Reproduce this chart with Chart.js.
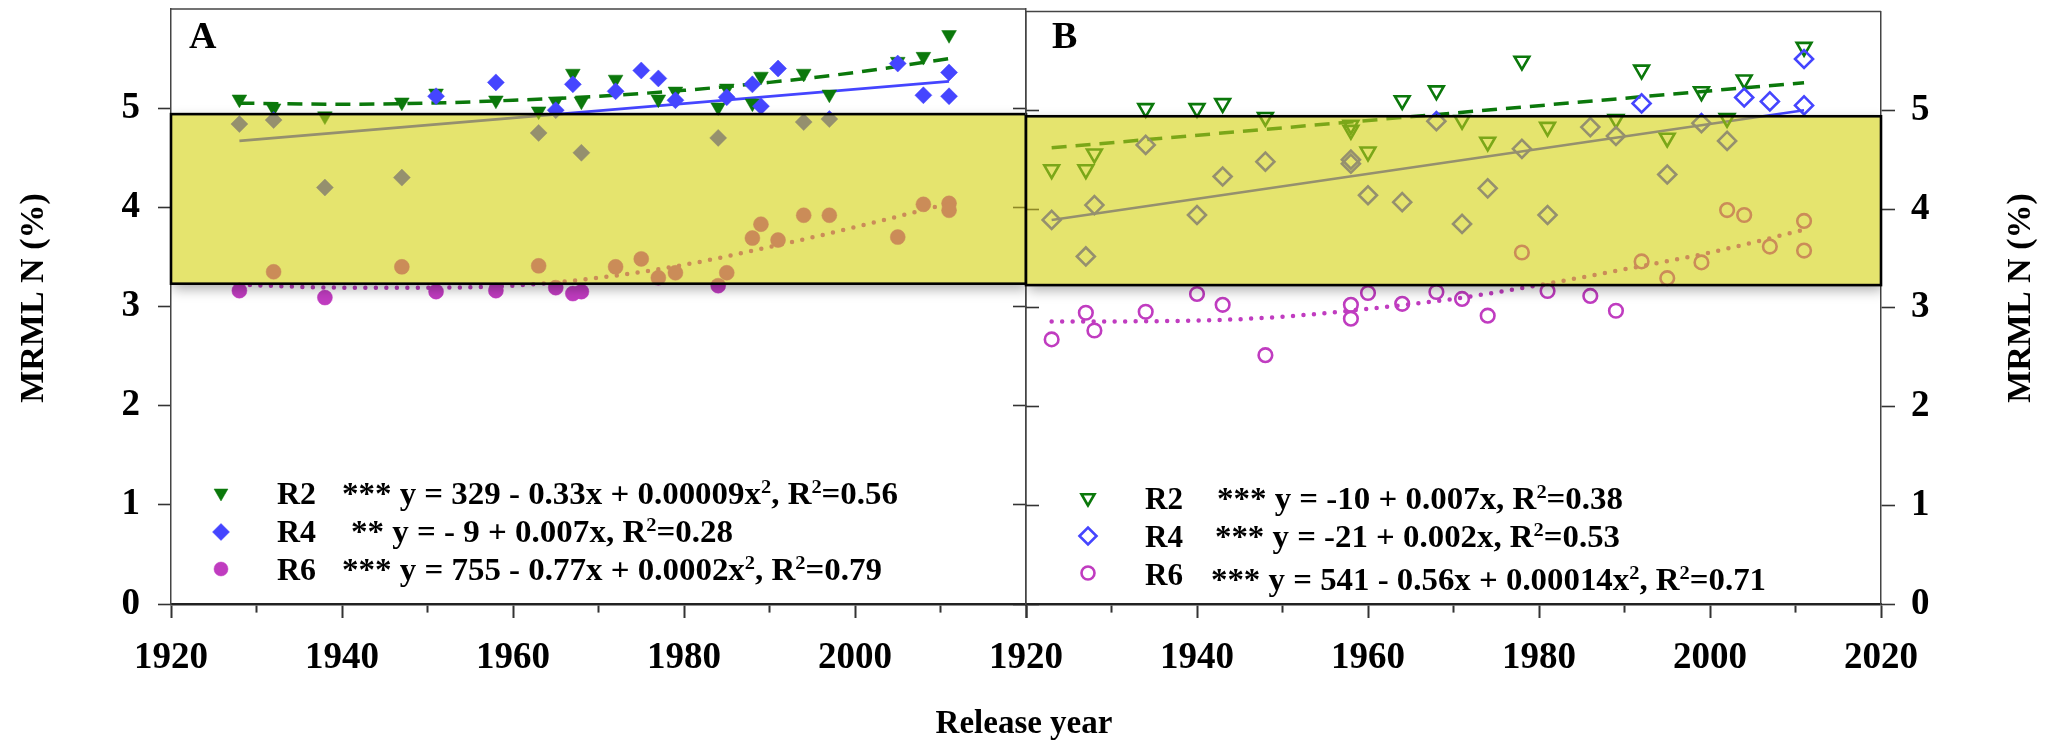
<!DOCTYPE html>
<html><head><meta charset="utf-8">
<script src="https://cdn.jsdelivr.net/npm/chart.js@4.4.1/dist/chart.umd.min.js"></script>
<style>
html,body{margin:0;padding:0;background:#fff;}
#wrap{position:relative;width:2051px;height:743px;overflow:hidden;background:#fff;}
#cA{position:absolute;left:0;top:0;width:2051px;height:743px;}
#cB{position:absolute;left:976px;top:0;width:1075px;height:743px;}
</style></head><body>
<div id="wrap"><canvas id="cA" width="2051" height="743"></canvas><canvas id="cB" width="1075" height="743"></canvas></div>
<script>
// ---------- DATA ----------
// Panel A (filled markers)
const A_R2_YEARS = [1928,1932,1938,1947,1951,1958,1963,1965,1967,1968,1972,1977,1979,1984,1985,1988,1989,1994,1997,2005,2008,2011];
const A_R2_N     = [5.09,5.00,4.92,5.06,5.15,5.08,4.97,5.07,5.35,5.07,5.29,5.09,5.17,5.01,5.20,5.05,5.32,5.35,5.14,5.47,5.52,5.74];
const A_R4_YEARS = [1928,1932,1938,1947,1951,1958,1963,1965,1967,1968,1972,1975,1977,1979,1984,1985,1988,1989,1991,1994,1997,2005,2008,2011,2011];
const A_R4_N     = [4.84,4.88,4.20,4.30,5.12,5.26,4.75,4.98,5.24,4.55,5.17,5.38,5.30,5.08,4.70,5.11,5.24,5.02,5.40,4.86,4.89,5.45,5.13,5.36,5.12];
const A_R6_YEARS = [1928,1932,1938,1947,1951,1958,1963,1965,1967,1968,1972,1975,1977,1979,1984,1985,1988,1989,1991,1994,1997,2005,2008,2011,2011];
const A_R6_N     = [3.16,3.35,3.09,3.40,3.15,3.16,3.41,3.19,3.13,3.15,3.40,3.48,3.29,3.34,3.21,3.34,3.69,3.83,3.67,3.92,3.92,3.70,4.03,4.04,3.97];
// Panel A fitted curves
const A_FIT_R2_YEARS = [1928,1940,1950,1960,1970,1980,1990,2000,2011];
const A_FIT_R2_N     = [5.05,5.04,5.05,5.08,5.12,5.18,5.26,5.36,5.50];
const A_FIT_R4_YEARS = [1928,2011];
const A_FIT_R4_N     = [4.67,5.27];
const A_FIT_R6_YEARS = [1928,1940,1950,1960,1970,1980,1990,2000,2011];
const A_FIT_R6_N     = [3.22,3.19,3.19,3.21,3.29,3.42,3.60,3.80,4.04];

// Panel B (open markers)
const B_R2_YEARS = [1923,1927,1928,1934,1940,1943,1948,1958,1958,1960,1964,1968,1971,1974,1978,1981,1989,1992,1995,1999,2002,2004,2011];
const B_R2_N     = [4.40,4.40,4.56,5.02,5.02,5.07,4.93,4.85,4.80,4.58,5.10,5.20,4.90,4.68,5.50,4.83,4.91,5.41,4.72,5.19,4.92,5.31,5.64];
const B_R4_YEARS = [1923,1927,1928,1934,1940,1943,1948,1958,1958,1960,1964,1968,1971,1974,1978,1981,1986,1989,1992,1995,1999,2002,2004,2007,2011,2011];
const B_R4_N     = [3.89,3.52,4.04,4.65,3.94,4.33,4.48,4.50,4.46,4.14,4.07,4.89,3.85,4.21,4.61,3.94,4.83,4.74,5.07,4.35,4.87,4.69,5.13,5.09,5.52,5.05];
const B_R6_YEARS = [1923,1927,1928,1934,1940,1943,1948,1958,1958,1960,1964,1968,1971,1974,1978,1981,1986,1989,1992,1995,1999,2002,2004,2007,2011,2011];
const B_R6_N     = [2.68,2.95,2.77,2.96,3.14,3.03,2.52,3.03,2.89,3.15,3.04,3.16,3.09,2.92,3.56,3.17,3.12,2.97,3.47,3.30,3.46,3.99,3.94,3.62,3.88,3.58];
const B_FIT_R2_YEARS = [1923,2011];
const B_FIT_R2_N     = [4.62,5.28];
const B_FIT_R4_YEARS = [1923,2011];
const B_FIT_R4_N     = [3.89,5.00];
const B_FIT_R6_YEARS = [1923,1940,1950,1960,1970,1980,1990,2000,2011];
const B_FIT_R6_N     = [2.86,2.87,2.91,2.99,3.09,3.23,3.39,3.56,3.79];

// Highlight band (MRML N range) and axes
const BAND_N = [3.23, 4.94];
const X_RANGE = [1920, 2020];
const Y_RANGE = [0, 6];
const Y_TICKS_MAX = 5;

// Text
const Y_TITLE = 'MRML N (%)';
const X_TITLE = 'Release year';
const SERIES = ['R2','R4','R6'];
const A_EQ = [
  [{t:'*** y = 329 - 0.33x + 0.00009x'},{t:'2',sup:1},{t:', R'},{t:'2',sup:1},{t:'=0.56'}],
  [{t:'** y = - 9 + 0.007x, R'},{t:'2',sup:1},{t:'=0.28'}],
  [{t:'*** y = 755 - 0.77x + 0.0002x'},{t:'2',sup:1},{t:', R'},{t:'2',sup:1},{t:'=0.79'}]
];
const B_EQ = [
  [{t:'*** y = -10 + 0.007x, R'},{t:'2',sup:1},{t:'=0.38'}],
  [{t:'*** y = -21 + 0.002x, R'},{t:'2',sup:1},{t:'=0.53'}],
  [{t:'*** y = 541 - 0.56x + 0.00014x'},{t:'2',sup:1},{t:', R'},{t:'2',sup:1},{t:'=0.71'}]
];

// ---------- STYLE ----------
const FONT = '"Liberation Serif", "Times New Roman", serif';
const GREEN = '#0b780b', BLUE = '#4545ff', MAGENTA = '#c03cc0';
const AXIS = '#333';

function pts(xs, ys){ return xs.map((x,i)=>({x:x, y:ys[i]})); }

function drawRich(ctx, parts, x, y, size, targetW){
  ctx.save();
  ctx.textBaseline='alphabetic'; ctx.textAlign='left'; ctx.fillStyle='#000';
  const f = s => 'bold ' + s + 'px ' + FONT;
  let w = 0;
  parts.forEach(p => { ctx.font = f(p.sup ? size*0.62 : size); w += ctx.measureText(p.t).width; });
  const sx = targetW ? targetW / w : 1;
  ctx.translate(x, y); ctx.scale(sx, 1);
  let cx = 0;
  parts.forEach(p => {
    ctx.font = f(p.sup ? size*0.62 : size);
    ctx.fillText(p.t, cx, p.sup ? -size*0.36 : 0);
    cx += ctx.measureText(p.t).width;
  });
  ctx.restore();
}
function drawTitle(ctx, text, x, y, size, rot){
  ctx.save();
  ctx.font = 'bold ' + size + 'px ' + FONT; ctx.fillStyle = '#000';
  ctx.textAlign = 'center'; ctx.textBaseline = rot ? 'middle' : 'alphabetic';
  ctx.translate(x, y); if (rot) ctx.rotate(-Math.PI/2);
  ctx.fillText(text, 0, 0);
  ctx.restore();
}

function makeBandPlugin(extraDraw){
  return {
    id: 'band',
    beforeDatasetsDraw(chart){
      const ctx = chart.ctx, a = chart.chartArea;
      ctx.save(); ctx.strokeStyle = '#444'; ctx.lineWidth = 1.5;
      ctx.beginPath(); ctx.moveTo(a.left, a.top); ctx.lineTo(a.right, a.top); ctx.stroke();
      ctx.restore();
    },
    afterDatasetsDraw(chart){
      const ctx = chart.ctx, a = chart.chartArea;
      const xs = chart.scales.x, ys = chart.scales.y;
      const l = xs.getPixelForValue(X_RANGE[0]), r = xs.getPixelForValue(X_RANGE[1]);
      const t = ys.getPixelForValue(BAND_N[1]), b = ys.getPixelForValue(BAND_N[0]);
      ctx.save();
      ctx.beginPath(); ctx.rect(a.left, a.top, a.width, a.height); ctx.rect(l, t, r-l, b-t); ctx.clip('evenodd');
      ctx.shadowColor = 'rgba(0,0,0,0.33)'; ctx.shadowBlur = 12; ctx.shadowOffsetY = 5; ctx.shadowOffsetX = 2;
      ctx.fillStyle = '#000'; ctx.fillRect(l, t, r-l, b-t);
      ctx.restore();
      ctx.save();
      ctx.globalCompositeOperation = 'destination-over'; ctx.fillStyle = '#fff'; ctx.fillRect(l, t, r-l, b-t);
      ctx.globalCompositeOperation = 'source-over'; ctx.fillStyle = 'rgba(228,205,47,0.55)'; ctx.fillRect(l, t, r-l, b-t);
      ctx.globalCompositeOperation = 'multiply'; ctx.fillStyle = 'rgb(244,255,199)'; ctx.fillRect(l, t, r-l, b-t);
      ctx.restore();
      ctx.save(); ctx.strokeStyle = '#000'; ctx.lineWidth = 2.6; ctx.strokeRect(l, t, r-l, b-t); ctx.restore();
    },
    afterDraw(chart){ extraDraw(chart.ctx); }
  };
}

function fitLine(xs, ys, color, width, dash, curved){
  return {type:'line', data:pts(xs, ys), borderColor:color, borderWidth:width, borderDash:dash||[],
    borderCapStyle: (dash && dash[0]===0) ? 'round' : 'butt', pointRadius:0, fill:false,
    cubicInterpolationMode: curved ? 'monotone' : 'default', order:10};
}
function markers(xs, ys, style, color, radius, open, order){
  return {type:'scatter', data:pts(xs, ys), pointStyle:style, pointRotation: style==='triangle'?180:0,
    pointRadius:radius, pointBackgroundColor: open ? 'rgba(0,0,0,0)' : color,
    pointBorderColor:color, pointBorderWidth: open ? 2.6 : 0.5, order:order, showLine:false};
}

function xScale(labelFn){
  return {type:'linear', position:'bottom', min:X_RANGE[0], max:X_RANGE[1],
    afterFit(s){ s.height = 139; s.paddingLeft = 0; s.paddingRight = 0; },
    ticks:{stepSize:10, autoSkip:false, maxRotation:0, minRotation:0, padding:18, color:'#000',
      font:{family:FONT, size:37, weight:'bold'}, callback:labelFn},
    grid:{drawOnChartArea:false, drawTicks:true, tickLength:14, tickWidth:2, tickColor:AXIS,
      tickBorderDash: c => (c.tick && c.tick.value % 20 !== 0) ? [7, 40] : []},
    border:{display:true, color:'#222', width:2.6}};
}
function yScale(pos, width, tickLen, showLabels, pad){
  return {type:'linear', position:pos, min:Y_RANGE[0], max:Y_RANGE[1],
    afterFit(s){ s.width = width; s.paddingTop = 0; s.paddingBottom = 0; },
    afterBuildTicks(s){ s.ticks = s.ticks.filter(t => t.value <= Y_TICKS_MAX); },
    ticks:{stepSize:1, padding:pad, color:'#000', font:{family:FONT, size:37, weight:'bold'},
      callback: v => showLabels ? String(v) : ''},
    grid:{drawOnChartArea:false, drawTicks:true, tickLength:tickLen, tickWidth:1.6, tickColor:AXIS},
    border:{display:true, color:'#444', width:1.5}};
}

const common = {responsive:false, animation:false, devicePixelRatio:1, events:[]};

function drawLegendA(ctx){
  const H = Chart.helpers;
  const cols = [GREEN, BLUE, MAGENTA], styles = ['triangle','rectRot','circle'];
  const rad = [8, 8.5, 7], ys = [493, 532, 569], base = [504, 542, 580];
  const eqX = [342, 351, 342], eqW = [556, 382, 540];
  for (let i=0;i<3;i++){
    ctx.save(); ctx.fillStyle = cols[i]; ctx.strokeStyle = cols[i]; ctx.lineWidth = 0.5;
    H.drawPoint(ctx, {pointStyle:styles[i], rotation: i===0?180:0, radius:rad[i], borderWidth:0.5}, 221, ys[i]);
    ctx.restore();
    drawRich(ctx, [{t:SERIES[i]}], 277, base[i], 31, 39);
    drawRich(ctx, A_EQ[i], eqX[i], base[i], 31, eqW[i]);
  }
  ctx.save(); ctx.font = 'bold 38px ' + FONT; ctx.fillStyle = '#000'; ctx.textBaseline='alphabetic'; ctx.textAlign='left';
  ctx.fillText('A', 189, 48); ctx.restore();
  drawTitle(ctx, Y_TITLE, 34, 298, 34, true);
  drawTitle(ctx, X_TITLE, 1024, 733, 33, false);
}
function drawLegendB(ctx){
  const H = Chart.helpers;
  const cols = [GREEN, BLUE, MAGENTA], styles = ['triangle','rectRot','circle'];
  const rad = [7.5, 8.5, 6.5], ys = [498, 536, 573], base = [509, 547, 585], eqBase = [509, 547, 590];
  const eqX = [241, 239, 235], eqW = [406, 405, 555];
  for (let i=0;i<3;i++){
    ctx.save(); ctx.strokeStyle = cols[i]; ctx.fillStyle = 'rgba(0,0,0,0)'; ctx.lineWidth = 2.6;
    H.drawPoint(ctx, {pointStyle:styles[i], rotation: i===0?180:0, radius:rad[i], borderWidth:2.6}, 112, ys[i]);
    ctx.restore();
    drawRich(ctx, [{t:SERIES[i]}], 169, base[i], 31, 38);
    drawRich(ctx, B_EQ[i], eqX[i], eqBase[i], 31, eqW[i]);
  }
  ctx.save(); ctx.font = 'bold 38px ' + FONT; ctx.fillStyle = '#000'; ctx.textBaseline='alphabetic'; ctx.textAlign='left';
  ctx.fillText('B', 76, 48); ctx.restore();
  drawTitle(ctx, Y_TITLE, 1045, 298, 34, true);
}

// ---------- PANEL A ----------
new Chart(document.getElementById('cA'), {
  type:'scatter',
  data:{datasets:[
    fitLine(A_FIT_R2_YEARS, A_FIT_R2_N, GREEN, 3.5, [15,9], true),
    fitLine(A_FIT_R4_YEARS, A_FIT_R4_N, BLUE, 2.6, null, false),
    fitLine(A_FIT_R6_YEARS, A_FIT_R6_N, MAGENTA, 4.5, [0,10.5], true),
    markers(A_R6_YEARS, A_R6_N, 'circle', MAGENTA, 7.5, false, 3),
    markers(A_R2_YEARS, A_R2_N, 'triangle', GREEN, 8.5, false, 2),
    markers(A_R4_YEARS, A_R4_N, 'rectRot', BLUE, 8.5, false, 1)
  ]},
  options:Object.assign({}, common, {
    layout:{padding:{left:0, top:7, right:1025, bottom:0}},
    plugins:{legend:{display:false}, tooltip:{enabled:false}},
    scales:{
      x: xScale(v => (v % 20 === 0 && v < X_RANGE[1]) ? String(v) : ''),
      y: yScale('left', 171, 13, true, 18),
      y2: yScale('right', 0, -13, false, 0)
    }
  }),
  plugins:[makeBandPlugin(drawLegendA)]
});

// ---------- PANEL B ----------
new Chart(document.getElementById('cB'), {
  type:'scatter',
  data:{datasets:[
    fitLine(B_FIT_R2_YEARS, B_FIT_R2_N, GREEN, 3.5, [15,9], false),
    fitLine(B_FIT_R4_YEARS, B_FIT_R4_N, BLUE, 2.6, null, false),
    fitLine(B_FIT_R6_YEARS, B_FIT_R6_N, MAGENTA, 4.5, [0,10.5], true),
    markers(B_R6_YEARS, B_R6_N, 'circle', MAGENTA, 6.8, true, 3),
    markers(B_R2_YEARS, B_R2_N, 'triangle', GREEN, 8.5, true, 2),
    markers(B_R4_YEARS, B_R4_N, 'rectRot', BLUE, 9, true, 1)
  ]},
  options:Object.assign({}, common, {
    layout:{padding:{left:50, top:7, right:0, bottom:0}},
    plugins:{legend:{display:false}, tooltip:{enabled:false}},
    scales:{
      x: xScale(v => (v % 20 === 0) ? String(v) : ''),
      yL: yScale('left', 0, -13, false, 0),
      y: yScale('right', 170, 14, true, 16)
    }
  }),
  plugins:[makeBandPlugin(drawLegendB)]
});
</script>
</body></html>
